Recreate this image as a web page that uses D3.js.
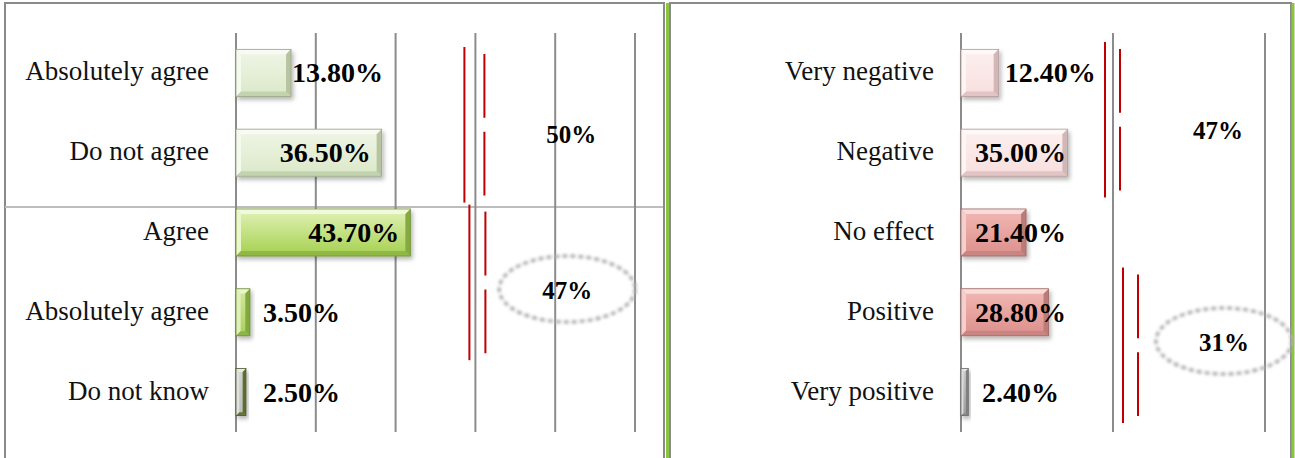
<!DOCTYPE html>
<html>
<head>
<meta charset="utf-8">
<script src="https://cdn.jsdelivr.net/npm/d3@7"></script>
<style>
  body { margin: 0; background: #fff; }
  svg { display: block; }
</style>
</head>
<body>
<svg width="1295" height="458"></svg>
<script>
'use strict';

// left panel: agreement
const leftCats = ["Absolutely agree", "Do not agree", "Agree", "Absolutely agree", "Do not know"];
const leftVals = [13.8, 36.5, 43.7, 3.5, 2.5];
const leftTicks = [0, 20, 40, 60, 80, 100];
const leftGroups = [[0, 1], [2, 3]];

// right panel: effect
const rightCats = ["Very negative", "Negative", "No effect", "Positive", "Very positive"];
const rightVals = [12.4, 35.0, 21.4, 28.8, 2.4];
const rightTicks = [0, 50, 100];
const rightGroups = [[0, 1], [3, 4]];

// bar looks: [face top, face bottom, edge]
const leftStyle = [
  ["#f0f6e6", "#dbe8c9", "#c3d3ad"],
  ["#f0f6e6", "#dbe8c9", "#c3d3ad"],
  ["#e2f2b8", "#a4d04e", "#8fb845"],
  ["#d2ea9c", "#a9d05a", "#8cb446"],
  ["#d4d4d4", "#bdbdbd", "#627636"]
];
const rightStyle = [
  ["#fdf0f0", "#f8dede", "#e2c4c4"],
  ["#fdf0f0", "#f8dede", "#e2c4c4"],
  ["#f2b9b5", "#dc8f8b", "#c98581"],
  ["#f2b9b5", "#dc8f8b", "#c98581"],
  ["#cfcfcf", "#9c9c9c", "#8a8a8a"]
];

const valueFont = "'Liberation Serif', 'Times New Roman', serif";

const svg = d3.select("svg");
const defs = svg.append("defs");

const shadow = defs.append("filter").attr("id", "shadow")
    .attr("x", "-20%").attr("y", "-20%").attr("width", "150%").attr("height", "160%");
shadow.append("feDropShadow")
    .attr("dx", 2).attr("dy", 3).attr("stdDeviation", 2.2)
    .attr("flood-color", "#000").attr("flood-opacity", 0.28);

const blur = defs.append("filter").attr("id", "blur")
    .attr("x", "-20%").attr("y", "-30%").attr("width", "140%").attr("height", "160%");
blur.append("feGaussianBlur").attr("stdDeviation", 1.4);

// frames
const frame = svg.append("g");
frame.append("path").attr("d", "M5,460 V3 H664 V460")
    .attr("fill", "none").attr("stroke", "#8a8a8a").attr("stroke-width", 2);
frame.append("line").attr("x1", 5).attr("x2", 663).attr("y1", 207).attr("y2", 207)
    .attr("stroke", "#bdbdbd").attr("stroke-width", 2);
frame.append("line").attr("x1", 667.5).attr("x2", 667.5).attr("y1", 3).attr("y2", 460)
    .attr("stroke", "#8cc63f").attr("stroke-width", 3);
frame.append("path").attr("d", "M670,460 V3 H1291 V460")
    .attr("fill", "none").attr("stroke", "#8a8a8a").attr("stroke-width", 2);
frame.append("line").attr("x1", 1293).attr("x2", 1293).attr("y1", 3).attr("y2", 460)
    .attr("stroke", "#8cc63f").attr("stroke-width", 3);

let gradId = 0;

function bevel(g, x, y, w, h, st) {
  const i = Math.min(5, w / 3);
  const id = "grad" + (gradId++);
  const lg = defs.append("linearGradient").attr("id", id)
      .attr("x1", 0).attr("y1", 0).attr("x2", 0).attr("y2", 1);
  lg.append("stop").attr("offset", "0%").attr("stop-color", st[0]);
  lg.append("stop").attr("offset", "100%").attr("stop-color", st[1]);

  const edge = d3.color(st[2]);
  const light = d3.interpolateRgb(st[0], "#ffffff")(0.5);
  const b = g.append("g").attr("filter", "url(#shadow)");
  b.append("rect").attr("x", x).attr("y", y).attr("width", w).attr("height", h)
      .attr("fill", `url(#${id})`);
  const poly = (pts, fill) => b.append("polygon")
      .attr("points", pts.map(p => p.join(",")).join(" ")).attr("fill", fill);
  poly([[x, y], [x + w, y], [x + w - i, y + i], [x + i, y + i]], light);
  poly([[x, y], [x + i, y + i], [x + i, y + h - i], [x, y + h]], d3.interpolateRgb(st[0], "#ffffff")(0.3));
  poly([[x, y + h], [x + i, y + h - i], [x + w - i, y + h - i], [x + w, y + h]], edge.formatHex());
  poly([[x + w, y], [x + w, y + h], [x + w - i, y + h - i], [x + w - i, y + i]], edge.darker(0.2).formatHex());
  b.append("rect").attr("x", x).attr("y", y).attr("width", w).attr("height", h)
      .attr("fill", "none").attr("stroke", edge.darker(0.7).formatHex()).attr("stroke-width", 0.8);
}

function panel(cfg) {
  const x = d3.scaleLinear().domain([0, 100]).range(cfg.xRange);
  const y = d3.scaleBand().domain(d3.range(cfg.cats.length))
      .range([33, 432]).paddingInner(0.41).paddingOuter(0.205);
  const g = svg.append("g");

  // gridlines
  g.append("g").selectAll("line").data(cfg.ticks).join("line")
      .attr("x1", d => x(d)).attr("x2", d => x(d))
      .attr("y1", 33).attr("y2", 432)
      .attr("stroke", "#8c8c8c").attr("stroke-width", 2);

  // category labels
  const ax = g.append("g").attr("transform", `translate(${x(0)},0)`)
      .call(d3.axisLeft(y).tickSize(0).tickPadding(27).tickFormat(i => cfg.cats[i]));
  ax.select(".domain").remove();
  ax.selectAll("text")
      .attr("font-family", "'Liberation Serif', 'Times New Roman', serif")
      .attr("font-size", 27).attr("fill", "#111")
      .attr("dy", "0.28em");

  // bars
  cfg.vals.forEach((v, i) => {
    bevel(g, x(0), y(i), x(v) - x(0), y.bandwidth(), cfg.style[i]);
  });

  // value labels
  g.append("g").selectAll("text").data(cfg.vals).join("text")
      .attr("x", (v, i) => cfg.labelX(x, v))
      .attr("text-anchor", v => cfg.labelAnchor(x, v))
      .attr("y", (v, i) => y(i) + y.bandwidth() / 2)
      .attr("dy", "0.34em")
      .attr("font-family", valueFont)
      .attr("font-weight", "bold").attr("font-size", 28).attr("fill", "#000")
      .text(v => d3.format(".2f")(v) + "%");

  // group brackets and totals
  cfg.groups.forEach((grp, k) => {
    const L = cfg.marks[k];
    const total = d3.sum(grp, i => cfg.vals[i]);
    const y0 = y(grp[0]) - y.step() * y.paddingOuter() + L.dy0;
    const y1 = y(grp[1]) + y.bandwidth() + y.step() * y.paddingOuter() + L.dy1;
    g.append("line")
        .attr("x1", x(L.at) + L.solid).attr("x2", x(L.at) + L.solid)
        .attr("y1", y0).attr("y2", y1)
        .attr("stroke", "#c00000").attr("stroke-width", 2);
    const len = y1 - y0 - 14;
    g.append("line")
        .attr("x1", x(L.at) + L.dash).attr("x2", x(L.at) + L.dash)
        .attr("y1", y0 + 7).attr("y2", y1 - 7)
        .attr("stroke", "#c00000").attr("stroke-width", 2)
        .attr("stroke-dasharray", `${(len - 14) / 2} 14`);
    if (L.ring) {
      g.append("ellipse")
          .attr("cx", x(L.tx)).attr("cy", L.ty - 1).attr("rx", 68).attr("ry", 33)
          .attr("fill", "none").attr("stroke", "#b0b0b0").attr("stroke-width", 3.5)
          .attr("stroke-dasharray", "5 3").attr("filter", "url(#blur)");
    }
    g.append("text")
        .attr("x", x(L.tx)).attr("y", L.ty).attr("dy", "0.34em")
        .attr("text-anchor", "middle")
        .attr("font-family", valueFont)
        .attr("font-weight", "bold").attr("font-size", 25).attr("fill", "#000")
        .text(d3.format(".0f")(total) + "%");
  });
}

panel({
  cats: leftCats, vals: leftVals, ticks: leftTicks, groups: leftGroups, style: leftStyle,
  xRange: [236, 635],
  labelX: (x, v) => x(v) - x(0) > 100 ? x(v) - 11 : Math.max(x(v) + 1, x(0) + 27),
  labelAnchor: (x, v) => x(v) - x(0) > 100 ? "end" : "start",
  marks: [
    { at: 60, solid: -11, dash: 9, dy0: 14, dy1: 10, tx: 84, ty: 134 },
    { at: 60, solid: -6, dash: 10, dy0: 12, dy1: 8, tx: 83, ty: 290, ring: true }
  ]
});

panel({
  cats: rightCats, vals: rightVals, ticks: rightTicks, groups: rightGroups, style: rightStyle,
  xRange: [961, 1265],
  labelX: (x, v) => x(v) - x(0) > 56 ? x(0) + 14 : Math.max(x(v) + 6, x(0) + 21),
  labelAnchor: () => "start",
  marks: [
    { at: 50, solid: -8, dash: 7, dy0: 9, dy1: 5, tx: 84.5, ty: 130 },
    { at: 50, solid: 10, dash: 25, dy0: -5, dy1: -9, tx: 86.5, ty: 342, ring: true }
  ]
});
</script>
</body>
</html>
